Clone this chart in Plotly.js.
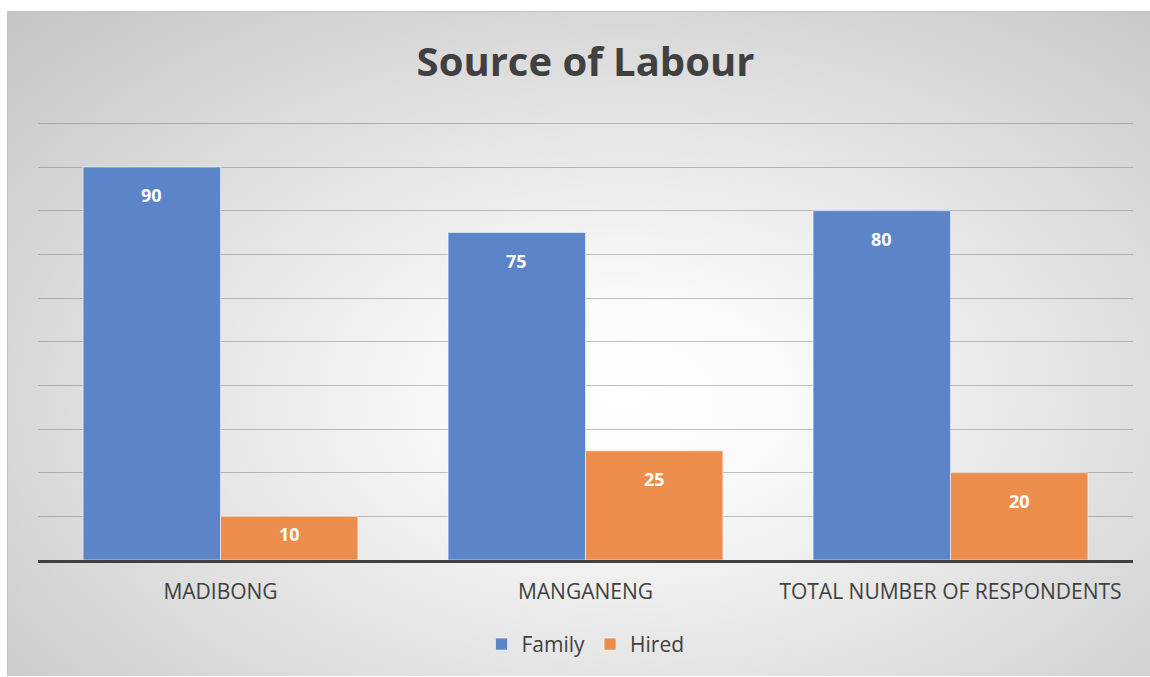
<!DOCTYPE html>
<html>
<head>
<meta charset="utf-8">
<script src="https://cdn.plot.ly/plotly-3.0.1.min.js"></script>
<style>
  html, body { margin: 0; padding: 0; background: #ffffff; }
  #bg {
    position: absolute; left: 7px; top: 11px; width: 1143px; height: 665px;
    border-top: 1px solid #c4c4c4; border-left: 1px solid #c4c4c4;
    box-sizing: border-box;
    background: radial-gradient(ellipse farthest-corner at 54% 58%, #ffffff 0%, #fafafa 18%, #c4c4c4 100%);
  }
  #chart { position: absolute; left: 0; top: 0; width: 1150px; height: 677px; }
</style>
</head>
<body>
<div id="bg"></div>
<div id="chart"></div>
<script>
const categories = ["MADIBONG", "MANGANENG", "TOTAL NUMBER OF RESPONDENTS"];
const familyValues = [90, 75, 80];
const hiredValues = [10, 25, 20];
const seriesNames = ["Family", "Hired"];
const seriesColors = ["#5b84c9", "#ed8d4c"];

const bargap = 0.247;
const barHalf = (1 - bargap) / 4; // offset of each bar centre from category centre
const marginT = 119, marginB = 114;
const plotHeight = 677 - marginT - marginB;
const yMax = 101;

const traces = [familyValues, hiredValues].map((vals, i) => ({
  type: "bar",
  name: seriesNames[i],
  x: categories,
  y: vals,
  marker: { color: seriesColors[i], line: { color: "rgba(255,255,255,0.55)", width: 1 } },
  hoverinfo: "x+y+name"
}));

const annotations = [];
[familyValues, hiredValues].forEach((vals, s) => {
  vals.forEach((v, i) => {
    const barPx = v / yMax * plotHeight;
    annotations.push({
      x: i + (s === 0 ? -barHalf : barHalf),
      y: v,
      xref: "x", yref: "y",
      text: String(v),
      showarrow: false,
      yanchor: "middle",
      yshift: -Math.min(28, barPx / 2 - 4),
      font: { family: "Open Sans, sans-serif", size: 18, color: "#ffffff", weight: "bold" }
    });
  });
});

const layout = {
  width: 1150, height: 677,
  paper_bgcolor: "rgba(0,0,0,0)",
  plot_bgcolor: "rgba(0,0,0,0)",
  margin: { l: 38, r: 17, t: marginT, b: marginB },
  title: {
    text: "<b>Source of Labour</b>",
    x: 0.5, xanchor: "center", xref: "paper",
    y: 1 - 62 / 677, yref: "container", yanchor: "middle",
    font: { family: "Open Sans, sans-serif", size: 40, color: "#404040" }
  },
  barmode: "group",
  bargap: bargap,
  bargroupgap: 0,
  xaxis: {
    type: "category",
    showgrid: false,
    showline: true, linecolor: "#404040", linewidth: 3,
    ticks: "", ticklabelstandoff: 11,
    tickfont: { family: "Open Sans, sans-serif", size: 21, color: "#404040" },
    fixedrange: true
  },
  yaxis: {
    range: [0, yMax], dtick: 10, tick0: 0,
    showticklabels: false, ticks: "",
    showgrid: true, gridcolor: "rgba(120,120,120,0.45)", gridwidth: 1,
    zeroline: false, showline: false,
    fixedrange: true
  },
  showlegend: true,
  legend: {
    orientation: "h",
    x: 0.5, xanchor: "center",
    y: -85 / plotHeight, yanchor: "middle",
    font: { family: "Open Sans, sans-serif", size: 21, color: "#404040" },
    bgcolor: "rgba(0,0,0,0)",
    itemwidth: 30
  },
  annotations: annotations
};

Plotly.newPlot("chart", traces, layout, { displayModeBar: false, staticPlot: true });
</script>
</body>
</html>
